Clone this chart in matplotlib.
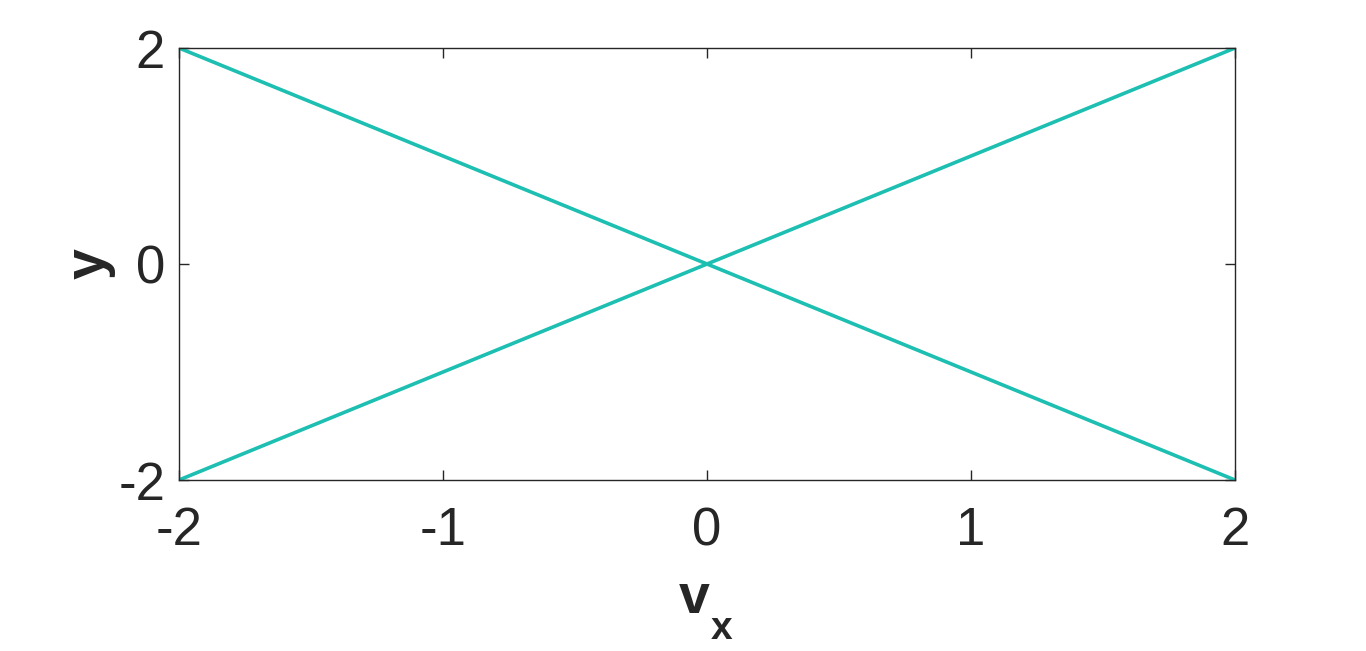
import matplotlib.pyplot as plt

# two straight lines crossing at the origin
vx = [-2, 2]
y_up = [-2, 2]
y_down = [2, -2]

x_ticks = [-2, -1, 0, 1, 2]
y_ticks = [-2, 0, 2]

plt.rcParams['font.family'] = ['Liberation Sans', 'DejaVu Sans']

fig = plt.figure(figsize=(13.66, 6.51), dpi=100)
ax = fig.add_axes([179 / 1366, 1 - 480 / 651, (1235 - 179) / 1366, (480 - 48) / 651])

color = '#1CBFB1'
ax.plot(vx, y_up, color=color, lw=2.6, solid_capstyle='butt')
ax.plot(vx, y_down, color=color, lw=2.6, solid_capstyle='butt')

ax.set_xlim(-2, 2)
ax.set_ylim(-2, 2)
ax.set_xticks(x_ticks)
ax.set_yticks(y_ticks)
ax.set_xticklabels([str(t) for t in x_ticks])
ax.set_yticklabels([str(t) for t in y_ticks])
ax.tick_params(direction='in', top=True, right=True, length=7, width=1,
               labelsize=38, colors='#262626')
ax.tick_params(axis='x', pad=19)
ax.tick_params(axis='y', pad=10)
for s in ax.spines.values():
    s.set_linewidth(1)
    s.set_color('#262626')

# x label: bold v with a lowered bold x subscript
ax.set_xlabel('v', fontsize=40, fontweight='bold', color='#262626', labelpad=12, x=0.488)
ax.annotate('x', xy=(1, 0), xycoords=ax.xaxis.label, xytext=(1, -16),
            textcoords='offset points', fontsize=28, fontweight='bold',
            color='#262626', va='bottom', ha='left')
ax.set_ylabel('y', fontsize=40, fontweight='bold', color='#262626', labelpad=2)

fig.savefig('out.png', dpi=100)
